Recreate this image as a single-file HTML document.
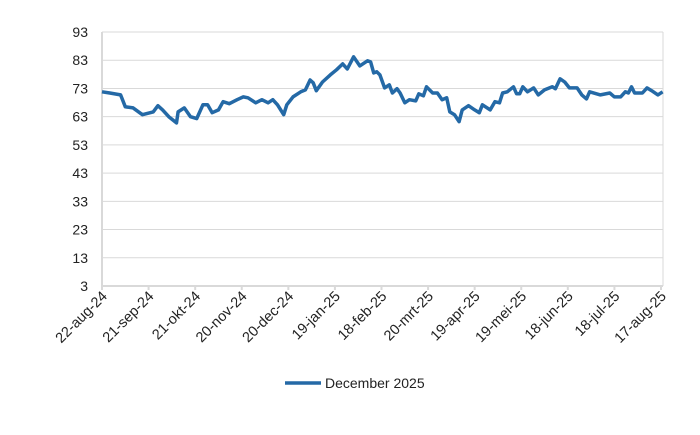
<!DOCTYPE html>
<html><head><meta charset="utf-8"><style>
html,body{margin:0;padding:0;background:#fff;}
svg text{font-family:"Liberation Sans",sans-serif;fill:#222;}
</style></head><body>
<svg id="chart" width="700" height="430" viewBox="0 0 700 430" xmlns="http://www.w3.org/2000/svg">
<g id="grid"></g>
<g id="yaxis"></g>
<g id="xaxis"></g>
<g id="series"></g>
<g>
<line x1="285" y1="383" x2="321" y2="383" stroke="#2469a6" stroke-width="3.5"/>
<text x="325" y="388" font-size="14">December 2025</text>
</g>
</svg>
<script>
const yTicks=[3,13,23,33,43,53,63,73,83,93];
const xLabels=["22-aug-24","21-sep-24","21-okt-24","20-nov-24","20-dec-24","19-jan-25","18-feb-25","20-mrt-25","19-apr-25","19-mei-25","18-jun-25","18-jul-25","17-aug-25"];
const days=[0,5,12,15,20,26,33,36,39,43,48,49,53,57,61,65,68,71,75,78,82,87,91,94,99,103,107,110,113,117,119,123,128,131,134,136,138,142,147,151,155,158,162,166,171,173,175,177,179,182,185,187,190,192,195,198,202,204,207,209,213,216,219,222,224,227,230,232,236,240,243,245,250,253,256,258,261,265,267,269,271,274,278,281,285,290,292,295,298,301,306,309,312,314,321,327,330,334,337,339,341,343,348,351,354,358,361];
const values=[71.8,71.4,70.7,66.5,66.1,63.7,64.7,66.9,65.4,63.0,60.8,64.7,66.1,63.0,62.3,67.2,67.2,64.4,65.4,68.3,67.6,69.0,70.0,69.7,67.9,69.0,67.9,69.0,67.2,63.7,67.2,70.0,71.8,72.5,76.0,75.0,72.2,75.3,77.8,79.6,81.7,79.9,84.2,81.0,82.8,82.4,78.5,78.9,77.8,73.2,74.3,71.4,72.9,71.4,67.9,69.0,68.6,71.1,70.4,73.6,71.4,71.4,69.0,69.7,64.7,63.7,61.2,65.4,66.9,65.4,64.4,67.2,65.4,68.3,67.9,71.4,71.8,73.6,71.1,71.1,73.6,71.8,73.2,70.7,72.5,73.6,72.9,76.4,75.3,73.2,73.2,70.7,69.3,71.8,70.7,71.4,70.0,70.0,71.8,71.4,73.6,71.4,71.4,73.2,72.2,70.7,71.8];
const X0=102,X1=661,DAYS=360,Y0=286,Y1=32,VMIN=3,VMAX=93;
const xs=d=>X0+(X1-X0)*d/DAYS;
const ys=v=>Y0-(Y0-Y1)*(v-VMIN)/(VMAX-VMIN);
const NS="http://www.w3.org/2000/svg";
function mk(t,a,p){const e=document.createElementNS(NS,t);for(const k in a)e.setAttribute(k,a[k]);p.appendChild(e);return e;}
const grid=document.getElementById('grid'),ya=document.getElementById('yaxis'),xa=document.getElementById('xaxis'),ser=document.getElementById('series');
yTicks.forEach(v=>{
 if(v!==VMIN){const g=mk('line',{x1:X0,x2:663,y1:ys(v),y2:ys(v),stroke:'#d9d9d9','stroke-width':1},grid);
 
 }
 const t=mk('text',{x:88,y:ys(v)+5,'text-anchor':'end','font-size':14},ya);t.textContent=v;
 
 
});
const vl=mk('line',{x1:X0,x2:X0,y1:Y1,y2:Y0,stroke:'#d9d9d9','stroke-width':2},ya);


const rl=mk('line',{x1:663,x2:663,y1:Y1,y2:Y0,stroke:'#d9d9d9','stroke-width':1},grid);


const hl=mk('line',{x1:X0,x2:663,y1:Y0,y2:Y0,stroke:'#d9d9d9','stroke-width':2},xa);


xLabels.forEach((l,i)=>{
 const x=xs(i*30);
 const tk=mk('line',{x1:x,x2:x,y1:Y0,y2:Y0+4,stroke:'#d9d9d9','stroke-width':2},xa);
 
 
 const t=mk('text',{x:x+6,y:Y0+11,'text-anchor':'end','font-size':14.5,transform:`rotate(-45 ${x+6} ${Y0+11})`},xa);t.textContent=l;
 
 
});
const p=mk('polyline',{points:days.map((d,i)=>xs(d).toFixed(1)+','+ys(values[i]).toFixed(1)).join(' '),fill:'none',stroke:'#2469a6','stroke-width':3.5,'stroke-linejoin':'round'},ser);


</script>
</body></html>
